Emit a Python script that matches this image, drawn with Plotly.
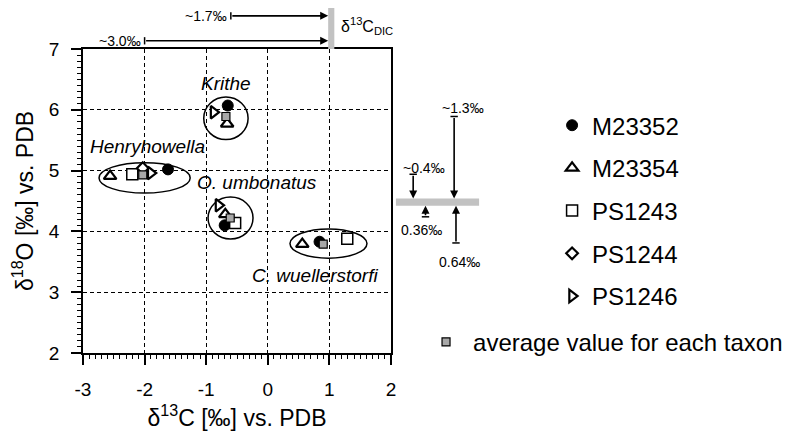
import plotly.graph_objects as go

# ---------------- data ----------------
taxa = ["Krithe", "Henryhowella", "O. umbonatus", "C. wuellerstorfi"]

# δ13C (x) and δ18O (y) per core, in taxa order (None = not shown)
m23352_c = [-0.65, -1.62, -0.70, 0.84]
m23352_o = [6.07, 5.02, 4.10, 3.83]
m23354_c = [-0.66, -2.56, -0.69, 0.56]
m23354_o = [5.77, 4.91, 4.28, 3.79]
ps1243_c = [None, -2.20, -0.53, 1.29]
ps1243_o = [None, 4.94, 4.14, 3.88]
ps1244_c = [None, -2.03, None, None]
ps1244_o = [None, 5.04, None, None]
ps1246_c = [-0.88, -1.90, -0.80, None]
ps1246_o = [5.96, 4.96, 4.43, None]
avg_c = [-0.68, -2.03, -0.61, 0.90]
avg_o = [5.89, 4.93, 4.22, 3.79]

# taxon envelopes: centre and half-axes (‰)
ell_c = [-0.68, -2.00, -0.605, 0.985]
ell_o = [5.86, 4.88, 4.22, 3.80]
ell_rc = [0.36, 0.74, 0.365, 0.625]
ell_ro = [0.35, 0.25, 0.345, 0.24]

# reference values
dic_c = 1.03            # δ13C of DIC
dic_half = 0.05
eq_o = 4.48             # equilibrium δ18O
eq_half = 0.06
dic_from = [-0.60, -2.00]
dic_labels = ["~1.7‰", "~3.0‰"]
eq_from = [5.89, 4.94, 4.24, 3.81]
eq_labels = ["~1.3‰", "~0.4‰", "0.36‰", "0.64‰"]

x_ticks = [-3, -2, -1, 0, 1, 2]
x_ticktext = ["-3", "-2", "-1", "0", "1", "2"]
y_ticks = [2, 3, 4, 5, 6, 7]
y_ticktext = ["2", "3", "4", "5", "6", "7"]

# ---------------- figure ----------------
FONT = "Liberation Sans, Arial, sans-serif"
fig = go.Figure()

series = [
    ("M23352", m23352_c, m23352_o, dict(symbol="circle", size=11, color="black",
                                        line=dict(color="black", width=1))),
    ("M23354", m23354_c, m23354_o, dict(symbol="triangle-up", size=11, color="white",
                                        line=dict(color="black", width=2.2))),
    ("PS1243", ps1243_c, ps1243_o, dict(symbol="square", size=11, color="white",
                                        line=dict(color="black", width=1.5))),
    ("PS1244", ps1244_c, ps1244_o, dict(symbol="diamond", size=9, color="white",
                                        line=dict(color="black", width=2.2))),
    ("PS1246", ps1246_c, ps1246_o, dict(symbol="triangle-right", size=11, color="white",
                                        line=dict(color="black", width=2.2))),
]
for name, xs, ys, mk in series:
    fig.add_trace(go.Scatter(x=xs, y=ys, mode="markers", name=name, marker=mk,
                             legendgroup=name, legend="legend", cliponaxis=False))

fig.add_trace(go.Scatter(x=avg_c, y=avg_o, mode="markers", name="average value for each taxon",
                         marker=dict(symbol="square", size=8, color="#a8a8a8",
                                     line=dict(color="black", width=1.2)),
                         legend="legend2", cliponaxis=False))

shapes = []
# taxon envelopes
for cx, cy, rx, ry in zip(ell_c, ell_o, ell_rc, ell_ro):
    shapes.append(dict(type="circle", xref="x", yref="y", x0=cx - rx, x1=cx + rx,
                       y0=cy - ry, y1=cy + ry, line=dict(color="black", width=1.5),
                       layer="below"))

# δ13C DIC bar above the plot
shapes.append(dict(type="rect", xref="x", yref="paper", x0=dic_c - dic_half, x1=dic_c + dic_half,
                   y0=1.0, y1=1.145, fillcolor="#c2c2c2", line=dict(width=0)))
# equilibrium δ18O bar right of the plot
shapes.append(dict(type="rect", xref="paper", yref="y", x0=1.016, x1=1.286,
                   y0=eq_o - eq_half, y1=eq_o + eq_half, fillcolor="#c2c2c2", line=dict(width=0)))

annotations = []
ARROW = dict(showarrow=True, arrowhead=2, arrowsize=1.0, arrowwidth=1.6, arrowcolor="black")
# top arrows
dic_rows = [1.109, 1.027]
for xf, row, lab in zip(dic_from, dic_rows, dic_labels):
    annotations.append(dict(xref="x", yref="paper", x=dic_c - dic_half, y=row,
                            axref="x", ayref="pixel", ax=xf, ay=0, text="", **ARROW))
    shapes.append(dict(type="line", xref="x", yref="paper", x0=xf, x1=xf,
                       y0=row - 0.012, y1=row + 0.012, line=dict(color="black", width=1.5)))
    annotations.append(dict(xref="x", yref="paper", x=xf, y=row, xanchor="right",
                            yanchor="middle", xshift=-2, text=lab, showarrow=False,
                            font=dict(size=14, family=FONT, color="black")))

annotations.append(dict(xref="x", yref="paper", x=dic_c + dic_half, y=1.075, xanchor="left",
                        yanchor="middle", xshift=5, showarrow=False,
                        text="δ<sup>13</sup>C<sub>DIC</sub>",
                        font=dict(size=16, family=FONT, color="black")))

# right-side arrows
eq_x = [1.205, 1.072, 1.112, 1.211]
eq_lab_x = [1.234, 1.107, 1.100, 1.224]
eq_lab_shift = [8, 6, -13, -19]
for yf, xp, lab, lx, ls in zip(eq_from, eq_x, eq_labels, eq_lab_x, eq_lab_shift):
    head = eq_o + eq_half if yf > eq_o else eq_o - eq_half
    annotations.append(dict(xref="paper", yref="y", x=xp, y=head,
                            axref="pixel", ayref="y", ax=0, ay=yf, text="", **ARROW))
    shapes.append(dict(type="line", xref="paper", yref="y", x0=xp - 0.012, x1=xp + 0.012,
                       y0=yf, y1=yf, line=dict(color="black", width=1.5)))
    annotations.append(dict(xref="paper", yref="y", x=lx, y=yf, xanchor="center",
                            yanchor="middle", yshift=ls, text=lab, showarrow=False,
                            font=dict(size=14, family=FONT, color="black")))

# taxon labels
label_pos = {"Krithe": (-0.68, 6.44), "Henryhowella": (-1.96, 5.40),
             "O. umbonatus": (-0.18, 4.80), "C. wuellerstorfi": (0.77, 3.27)}
for t in taxa:
    lx, ly = label_pos[t]
    annotations.append(dict(xref="x", yref="y", x=lx, y=ly, text=f"<i>{t}</i>",
                            showarrow=False, xanchor="center", yanchor="middle",
                            font=dict(size=19, family=FONT, color="black")))

axis_common = dict(showline=True, linecolor="black", linewidth=1.6, mirror=True,
                   ticks="outside", ticklen=10, tickwidth=1.5, tickcolor="black",
                   showgrid=True, gridcolor="black", gridwidth=1.2, griddash="4px,3px",
                   zeroline=False, tickfont=dict(size=19, family=FONT, color="black"),
                   minor=dict(dtick=0.1, ticks="outside", ticklen=4, tickwidth=1,
                              tickcolor="black", showgrid=False))

# the page body adds an 8px offset, so the figure is 8px smaller than the window
fig.update_layout(
    width=793, height=423,
    margin=dict(l=75, r=410, t=41, b=78, autoexpand=False),
    paper_bgcolor="white", plot_bgcolor="white",
    font=dict(family=FONT, color="black"),
    xaxis=dict(range=[-3, 2], tickvals=x_ticks, ticktext=x_ticktext, ticklabelstandoff=8,
               title=dict(text="δ<sup>13</sup>C [‰] vs. PDB", standoff=14,
                          font=dict(size=23, family=FONT, color="black")),
               **axis_common),
    yaxis=dict(range=[2, 7], tickvals=y_ticks, ticktext=y_ticktext, ticklabelstandoff=8,
               title=dict(text="δ<sup>18</sup>O [‰] vs. PDB", standoff=13,
                          font=dict(size=23, family=FONT, color="black")),
               **axis_common),
    shapes=shapes,
    annotations=annotations,
    showlegend=True,
    legend=dict(x=1.523, y=0.822, xanchor="left", yanchor="top", tracegroupgap=8.5,
                font=dict(size=24, family=FONT, color="black"), bgcolor="rgba(0,0,0,0)"),
    legend2=dict(x=1.091, y=0.109, xanchor="left", yanchor="top", itemwidth=44,
                 font=dict(size=24, family=FONT, color="black"), bgcolor="rgba(0,0,0,0)"),
)

fig.write_html("out.html")
